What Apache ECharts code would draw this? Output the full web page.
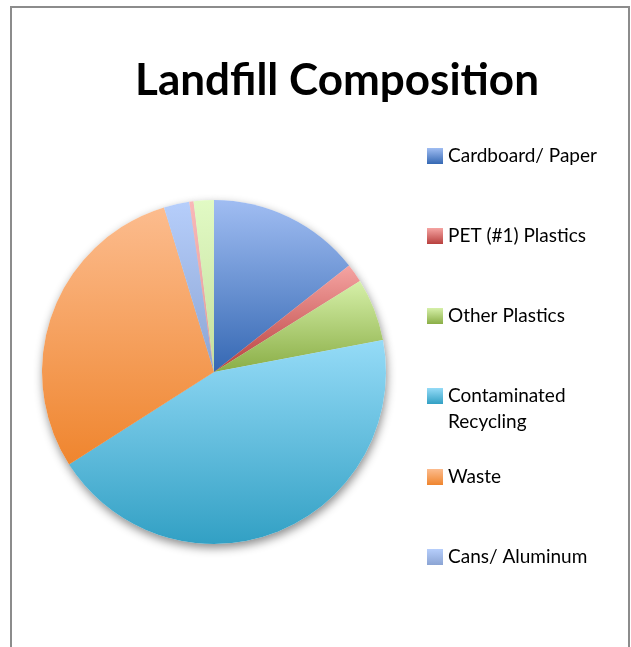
<!DOCTYPE html>
<html>
<head>
<meta charset="utf-8">
<script src="https://cdn.jsdelivr.net/npm/echarts@6/dist/echarts.min.js"></script>
<style>
html,body{margin:0;padding:0;background:#fff;}
#chart{width:631px;height:647px;}
</style>
</head>
<body>
<div id="chart"></div>
<script>
// ---- data ----
const titleText = 'Landfill Composition';
const categories = ['Cardboard/ Paper', 'PET (#1) Plastics', 'Other Plastics', 'Contaminated Recycling', 'Waste', 'Cans/ Aluminum', 'Glass', 'Other'];
const values = [14.4, 1.75, 5.9, 44.0, 29.4, 2.4, 0.4, 1.9];
const legendUpper = ['Cardboard/ Paper', 'PET (#1) Plastics', 'Other Plastics'];
const legendMiddle = ['Contaminated Recycling'];
const legendLower = ['Waste', 'Cans/ Aluminum'];
const topColors = ['#A0BDF2', '#F5A4A2', '#D6F0A9', '#95DBF7', '#FCBC8E', '#B6CEFB', '#F9B8B8', '#E1FAC4'];
const bottomColors = ['#3568B3', '#B8403E', '#8AAE46', '#32A0C4', '#EF852E', '#8BA4D3', '#E49896', '#C4DE9C'];

function grad(i) {
  return new echarts.graphic.LinearGradient(0, 0, 0, 1, [
    { offset: 0, color: topColors[i] },
    { offset: 1, color: bottomColors[i] }
  ]);
}

const pieData = categories.map((n, i) => ({ name: n, value: values[i], itemStyle: { color: grad(i) } }));
const shadowData = categories.map((n, i) => ({ name: n, value: values[i] }));

const legendText = { fontFamily: 'Lato', fontSize: 19, color: '#000', lineHeight: 26 };
const legendCommon = {
  orient: 'vertical', left: 427, itemWidth: 16, itemHeight: 16, itemGap: 54,
  padding: 0, icon: 'rect', selectedMode: false, textStyle: legendText,
  // wrapped label: first line level with the swatch, second line below it
  formatter: name => name.indexOf('Contaminated ') === 0 ? ' \n' + name.replace('Contaminated ', 'Contaminated\n') : name
};

const chart = echarts.init(document.getElementById('chart'), null, { renderer: 'canvas' });
chart.setOption({
  animation: false,
  backgroundColor: '#fff',
  title: {
    text: titleText, left: 337, top: 59, textAlign: 'center', padding: 0,
    textStyle: { fontFamily: 'Lato', fontWeight: 'bold', fontSize: 44, color: '#000' }
  },
  legend: [
    Object.assign({}, legendCommon, { top: 143, data: legendUpper }),
    Object.assign({}, legendCommon, { top: 357, data: legendMiddle }),
    Object.assign({}, legendCommon, { top: 464, data: legendLower })
  ],
  graphic: [{
    type: 'rect', silent: true, z: -10,
    shape: { x: 11, y: 7, width: 618, height: 700 },
    style: { fill: 'none', stroke: '#8c8c8c', lineWidth: 2 }
  }],
  series: [
    {
      type: 'pie', z: 3, center: [214, 372], radius: [0, 172], startAngle: 90, clockwise: true,
      silent: true, avoidLabelOverlap: false, label: { show: false }, labelLine: { show: false },
      emphasis: { disabled: true },
      itemStyle: { borderWidth: 0 },
      data: pieData
    },
    {
      type: 'pie', z: 1, center: [214, 372], radius: [0, 172], startAngle: 90, clockwise: true,
      silent: true, label: { show: false }, labelLine: { show: false },
      emphasis: { disabled: true },
      itemStyle: { color: '#ffffff', borderWidth: 0, shadowBlur: 10, shadowOffsetX: 1, shadowOffsetY: 4, shadowColor: 'rgba(0,0,0,0.45)' },
      data: shadowData
    }
  ]
});
</script>
</body>
</html>
